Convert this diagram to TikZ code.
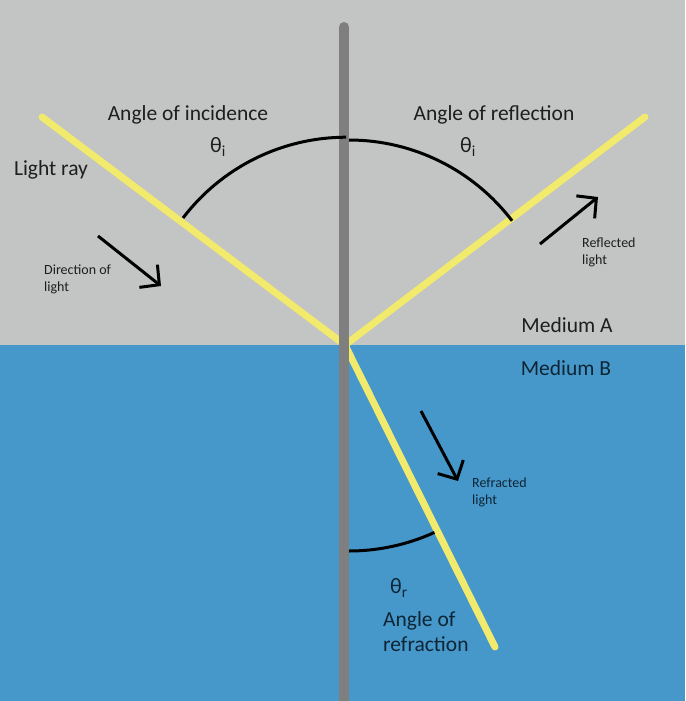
\documentclass[tikz,border=0pt]{standalone}
\usepackage{fontspec}
\setmainfont{Carlito}
\usetikzlibrary{arrows.meta}
\definecolor{bgA}{HTML}{C3C4C4}
\definecolor{bgB}{HTML}{4698CB}
\definecolor{ray}{HTML}{F2EA6C}
\definecolor{axis}{HTML}{7F7F7F}
\definecolor{txtA}{HTML}{1E1E1E}
\definecolor{txtB}{HTML}{0E2535}
\tikzset{
  lightray/.style={draw=ray, line width=7pt, line cap=round},
  normalline/.style={draw=axis, line width=10pt, line cap=round},
  anglearc/.style={draw=black, line width=3pt},
  dirarrow/.style={draw=black, line width=3pt, -{Straight Barb[length=14pt,width=29pt,line width=3pt]}},
  bigtext/.style={font=\fontsize{21.5}{25}\selectfont, inner sep=0pt},
  smalltext/.style={font=\fontsize{14}{16.5}\selectfont, inner sep=0pt, align=left, anchor=north west},
  thetatext/.style={font=\fontsize{22}{25}\selectfont, inner sep=0pt}
}
\begin{document}
\begin{tikzpicture}[x=1pt,y=-1pt]
\useasboundingbox (0,0) rectangle (685,701);
% media
\fill[bgA] (0,0) rectangle (685,345);
\fill[bgB] (0,345) rectangle (685,701);
% points
\coordinate (O) at (345,345);
\coordinate (inc) at (42,117);
\coordinate (refl) at (645,117);
\coordinate (refr) at (495,647);
\coordinate (ntop) at (344,27);
\coordinate (nbot) at (344,710);
% rays
\draw[lightray] (inc) -- (O) -- (refl);
\draw[lightray] (O) -- (refr);
% normal
\draw[normalline] (ntop) -- (nbot);
% angle arcs
\draw[anglearc] (183,218) arc[start angle=-142.7, end angle=-90, radius=205];
\draw[anglearc] (349,140) arc[start angle=-90, end angle=-37.3, radius=205];
\draw[anglearc] (349,551) arc[start angle=90, end angle=65.5, radius=206];
% direction arrows
\coordinate (d1s) at (98,236); \coordinate (d1e) at (161,286);
\coordinate (d2s) at (540,244); \coordinate (d2e) at (598,197);
\coordinate (d3s) at (421,411); \coordinate (d3e) at (458,481);
\draw[dirarrow] (d1s) -- (d1e);
\draw[dirarrow] (d2s) -- (d2e);
\draw[dirarrow] (d3s) -- (d3e);
% labels
\node[bigtext, text=txtA] (tinc) at (188,115) {Angle of incidence};
\node[bigtext, text=txtA] (trefl) at (494,115) {Angle of reflection};
\node[thetatext, text=txtA] (th1) at (218,147) {θ\textsubscript{i}};
\node[thetatext, text=txtA] (th2) at (468,147) {θ\textsubscript{i}};
\node[bigtext, text=txtA] (tray) at (51,170) {Light ray};
\node[smalltext, text=txtA] (tdir) at (44,265) {Direction of\\light};
\node[smalltext, text=txtA] (trl) at (582,238) {Reflected\\light};
\node[bigtext, text=txtA] (tma) at (567,325) {Medium A};
\node[bigtext, text=txtB] (tmb) at (566,368) {Medium B};
\node[smalltext, text=txtB] (trf) at (472,478) {Refracted\\light};
\node[thetatext, text=txtB] (th3) at (399,588) {θ\textsubscript{r}};
\node[bigtext, text=txtB, align=left, anchor=north west] (tangr) at (383,611) {Angle of\\refraction};
\end{tikzpicture}
\end{document}
